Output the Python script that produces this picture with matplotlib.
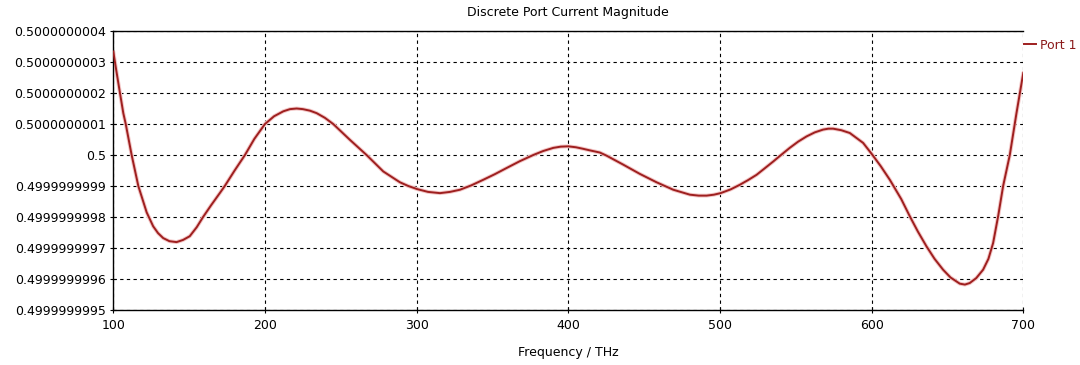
import matplotlib
matplotlib.use("Agg")
import matplotlib.pyplot as plt

# Frequency (THz)
freq = [100, 102, 104, 106.6, 108.2, 112.1, 116.5, 122, 126.3, 129.5, 132.9, 137,
        141.7, 146, 150.4, 155, 159.2, 164.5, 170.2, 173.5, 180, 186.8, 193, 200,
        206, 212.1, 216.5, 220.9, 225, 229.7, 234.1, 239.5, 245, 256, 267, 278,
        289, 294.5, 300.4, 307.5, 315.4, 322, 328.6, 336, 343.9, 351.5, 359.3, 368,
        376.9, 383.5, 390.1, 395, 399.9, 405, 409.8, 414.2, 420.8, 425.2, 436.2,
        447.2, 458.2, 469.2, 480.2, 486, 491.2, 496, 500.4, 507, 513.1, 518.5,
        524.1, 529.5, 535.1, 540.5, 546.0, 551.5, 557.1, 562.5, 568.0, 571.5, 574.6,
        580, 585.6, 590, 594.4, 600.6, 606, 612.0, 619.5, 625.2, 630.5, 636.2,
        641.5, 647.1, 652, 658.1, 661.5, 664.7, 669, 673.5, 677, 680.1, 683.5,
        686.7, 691.1, 695.5, 700]
# Deviation from 0.5 in units of 1e-10
dev = [3.34, 2.72, 2.12, 1.35, 1.0, 0.0, -1.0, -1.85, -2.30, -2.52, -2.68, -2.78,
       -2.81, -2.74, -2.62, -2.33, -2.0, -1.62, -1.23, -1.0, -0.5, 0.0, 0.52, 1.0,
       1.25, 1.41, 1.48, 1.50, 1.48, 1.43, 1.35, 1.20, 1.0, 0.49, 0.0, -0.53,
       -0.88, -1.0, -1.10, -1.19, -1.23, -1.19, -1.12, -0.98, -0.80, -0.62, -0.42, -0.2,
       0.0, 0.13, 0.23, 0.27, 0.28, 0.25, 0.20, 0.15, 0.08, -0.02, -0.31,
       -0.61, -0.88, -1.12, -1.28, -1.31, -1.31, -1.28, -1.23, -1.11, -0.96, -0.81,
       -0.64, -0.43, -0.21, 0.01, 0.23, 0.43, 0.60, 0.73, 0.82, 0.85, 0.85,
       0.80, 0.71, 0.55, 0.39, 0.0, -0.36, -0.80, -1.42, -1.98, -2.47, -2.95,
       -3.35, -3.70, -3.95, -4.15, -4.18, -4.13, -3.97, -3.70, -3.35, -2.84, -1.95,
       -1.0, 0.0, 1.35, 2.65]
magnitude = [0.5 + d * 1e-10 for d in dev]

ytick_vals = [0.5 + k * 1e-10 for k in range(-5, 5)]
ytick_labels = ["0.4999999995", "0.4999999996", "0.4999999997", "0.4999999998",
                "0.4999999999", "0.5", "0.5000000001", "0.5000000002",
                "0.5000000003", "0.5000000004"]
xticks = [100, 200, 300, 400, 500, 600, 700]

plt.rcParams['font.family'] = ['DejaVu Sans']
fig = plt.figure(figsize=(10.8, 3.65), dpi=100)
ax = fig.add_axes([0.1049, 0.1507, 0.8426, 0.7643])

ax.plot(freq, magnitude, color='#f3c6c6', lw=2.8, solid_capstyle='round', zorder=2)
ax.plot(freq, magnitude, color='#9e1f1f', lw=1.4, label='Port 1', zorder=3)

ax.set_xlim(100, 700)
ax.set_ylim(ytick_vals[0], ytick_vals[-1])
ax.set_xticks(xticks)
ax.set_xticklabels([str(t) for t in xticks])
ax.set_yticks(ytick_vals)
ax.set_yticklabels(ytick_labels)
ax.tick_params(direction='inout', length=5, width=0.8, labelsize=9, colors='black', pad=3)
ax.tick_params(axis='x', pad=4)

ax.grid(True, color='black', linestyle=(0, (3, 3)), linewidth=0.8)
ax.set_axisbelow(True)
ax.spines['right'].set_visible(False)
for s in ['left', 'top', 'bottom']:
    ax.spines[s].set_linewidth(1.0)

ax.set_title('Discrete Port Current Magnitude', fontsize=9, pad=11)
ax.set_xlabel('Frequency / THz', fontsize=9, labelpad=10)

leg = ax.legend(loc='upper left', bbox_to_anchor=(0.995, 0.99), frameon=False,
                fontsize=9, handlelength=1.0, handletextpad=0.3, borderaxespad=0,
                labelcolor='#8b1a1a')

fig.savefig('out.png', dpi=100)
